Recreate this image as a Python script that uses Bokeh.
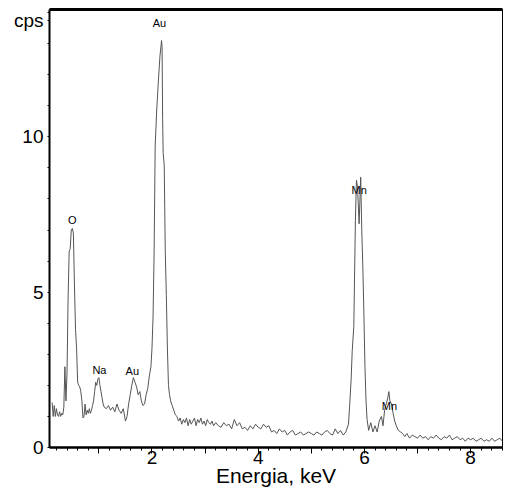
from bokeh.plotting import figure
from bokeh.models import Range1d, LinearAxis, SingleIntervalTicker, FixedTicker, ColumnDataSource
from bokeh.embed import file_html
from bokeh.resources import INLINE
from bokeh.core.properties import value

# EDS spectrum (energy in keV, counts per second)
energy = [0.12, 0.14, 0.16, 0.18, 0.20, 0.22, 0.24, 0.26, 0.28, 0.30, 0.32, 0.34, 0.36, 0.38, 0.40,
          0.42, 0.44, 0.46, 0.48, 0.50, 0.52, 0.54, 0.56, 0.58, 0.60, 0.62, 0.64, 0.66, 0.68, 0.70,
          0.72, 0.74, 0.76, 0.78, 0.80, 0.82, 0.84, 0.86, 0.88, 0.90, 0.92, 0.94, 0.96, 0.98, 1.00,
          1.02, 1.04, 1.06, 1.08, 1.10, 1.14, 1.18, 1.22, 1.26, 1.30, 1.34, 1.38, 1.42, 1.46, 1.50,
          1.53, 1.56, 1.59, 1.62, 1.65, 1.68, 1.71, 1.74, 1.77, 1.80, 1.83, 1.86, 1.89, 1.92, 1.95,
          1.98, 2.00, 2.02, 2.04, 2.06, 2.09, 2.12, 2.15, 2.18, 2.19, 2.20, 2.21, 2.23, 2.25, 2.27,
          2.29, 2.31, 2.33, 2.35, 2.38, 2.41, 2.44, 2.47, 2.50, 2.53, 2.56, 2.59, 2.62, 2.65, 2.68,
          2.71, 2.74, 2.77, 2.80, 2.83, 2.86, 2.89, 2.92, 2.95, 2.98, 3.01, 3.04, 3.07, 3.10, 3.13,
          3.16, 3.20, 3.25, 3.30, 3.35, 3.40, 3.45, 3.50, 3.55, 3.60, 3.65, 3.70, 3.75, 3.80, 3.85,
          3.90, 3.95, 4.00, 4.05, 4.10, 4.15, 4.20, 4.25, 4.30, 4.35, 4.40, 4.45, 4.50, 4.55, 4.60,
          4.65, 4.70, 4.75, 4.80, 4.85, 4.90, 4.95, 5.00, 5.05, 5.10, 5.15, 5.20, 5.25, 5.30, 5.35,
          5.40, 5.45, 5.50, 5.55, 5.60, 5.65, 5.70, 5.72, 5.75, 5.77, 5.80, 5.83, 5.85, 5.87, 5.90,
          5.93, 5.95, 5.97, 5.99, 6.01, 6.03, 6.05, 6.08, 6.12, 6.16, 6.20, 6.24, 6.28, 6.32, 6.35,
          6.38, 6.41, 6.44, 6.46, 6.48, 6.51, 6.54, 6.57, 6.60, 6.64, 6.68, 6.72, 6.76, 6.80, 6.85,
          6.90, 6.95, 7.00, 7.05, 7.10, 7.15, 7.20, 7.25, 7.30, 7.35, 7.40, 7.45, 7.50, 7.55, 7.60,
          7.65, 7.70, 7.75, 7.80, 7.85, 7.90, 7.95, 8.00, 8.05, 8.10, 8.15, 8.20, 8.25, 8.30, 8.35,
          8.40, 8.45, 8.50, 8.55, 8.60]
cps = [1.45, 1.00, 1.35, 1.00, 1.25, 1.05, 1.00, 1.15, 1.00, 1.10, 1.05, 1.30, 2.60, 1.50, 2.40,
       4.80, 6.30, 6.40, 7.00, 7.05, 6.90, 5.20, 3.80, 3.20, 2.10, 2.00, 1.95, 1.80, 1.50, 0.95,
       1.00, 1.40, 1.05, 1.20, 1.10, 1.25, 1.10, 1.20, 1.35, 1.50, 1.80, 2.10, 2.00, 2.20, 2.25,
       2.00, 1.80, 1.60, 1.40, 1.30, 1.25, 1.35, 1.20, 1.30, 1.15, 1.40, 1.20, 1.10, 1.25, 0.85,
       1.00, 1.40, 1.70, 2.00, 2.25, 2.10, 1.95, 1.70, 1.80, 1.50, 1.35, 1.40, 1.70, 1.90, 2.30,
       2.60, 3.20, 4.20, 6.30, 9.70, 10.90, 11.80, 12.60, 13.10, 12.90, 10.60, 9.50, 9.10, 6.30, 4.90,
       3.20, 2.00, 1.70, 1.50, 1.35, 1.20, 1.05, 1.00, 0.85, 0.95, 0.75, 0.90, 0.80, 0.95, 0.70,
       0.90, 0.75, 0.85, 0.95, 0.70, 0.90, 0.80, 0.95, 0.75, 0.85, 0.70, 0.90, 0.80, 0.75, 0.85,
       0.70, 0.80, 0.70, 0.65, 0.80, 0.70, 0.75, 0.60, 0.90, 0.70, 0.80, 0.60, 0.65, 0.55, 0.70,
       0.60, 0.75, 0.65, 0.60, 0.75, 0.65, 0.70, 0.50, 0.55, 0.45, 0.60, 0.50, 0.55, 0.40, 0.50,
       0.55, 0.40, 0.45, 0.50, 0.40, 0.45, 0.50, 0.45, 0.40, 0.50, 0.45, 0.40, 0.50, 0.55, 0.45,
       0.40, 0.60, 0.45, 0.55, 0.40, 0.50, 0.75, 1.30, 2.20, 3.10, 3.90, 7.30, 8.60, 8.40, 7.20,
       8.70, 7.00, 5.80, 4.30, 2.60, 1.50, 0.90, 0.55, 0.80, 0.50, 0.70, 0.50, 0.85, 1.00, 0.70,
       1.20, 1.40, 1.60, 1.80, 1.50, 1.40, 1.10, 0.85, 0.70, 0.55, 0.50, 0.45, 0.35, 0.45, 0.30,
       0.40, 0.35, 0.30, 0.40, 0.30, 0.35, 0.25, 0.35, 0.30, 0.40, 0.30, 0.25, 0.35, 0.30, 0.40,
       0.25, 0.30, 0.35, 0.25, 0.30, 0.20, 0.30, 0.25, 0.30, 0.20, 0.25, 0.30, 0.20, 0.25, 0.20,
       0.30, 0.20, 0.25, 0.30, 0.20]

# Peak annotations
peak_names = ["O", "Na", "Au", "Au", "Mn", "Mn"]
peak_energy = [0.50, 1.01, 1.63, 2.14, 5.90, 6.47]
peak_cps = [7.32, 2.48, 2.45, 13.65, 8.30, 1.32]

x_tick_labels = {1: "", 2: "2", 3: "", 4: "4", 5: "", 6: "6", 7: "", 8: "8"}
y_major_ticks = [0, 5, 10, 13.75]
y_minor_ticks = [1, 2, 3, 4, 6, 7, 8, 9, 11, 12, 13, 14]
y_tick_labels = {0: "0", 5: "5", 10: "10", 13.75: "cps"}

FONT = "Liberation Sans"

p = figure(width=505, height=495, output_backend="svg", toolbar_location=None,
           x_range=Range1d(0.07, 8.6), y_range=Range1d(0, 14.1),
           min_border_left=49, min_border_top=9, min_border_right=3, min_border_bottom=48)
p.background_fill_color = "white"
p.border_fill_color = "white"
p.grid.visible = False
p.outline_line_color = "black"
p.outline_line_width = 1

p.line(energy, cps, line_color="#555555", line_width=1)

src = ColumnDataSource(dict(x=peak_energy, y=peak_cps, t=peak_names))
p.text(x="x", y="y", text="t", source=src, text_font=value(FONT), text_font_size="11px",
       text_align="center", text_baseline="middle", text_color="black")

# x axis
xa = p.xaxis[0]
xa.ticker = SingleIntervalTicker(interval=1, num_minor_ticks=5)
xa.major_label_overrides = x_tick_labels
xa.axis_label = "Energia, keV"
xa.axis_label_text_font = FONT
xa.axis_label_text_font_style = "normal"
xa.axis_label_text_font_size = "21px"
xa.axis_label_text_color = "black"
xa.axis_label_standoff = -3
xa.major_label_text_font = FONT
xa.major_label_text_font_size = "19px"
xa.major_label_text_color = "black"
xa.major_label_standoff = -3
xa.axis_line_width = 2.5
xa.major_tick_in = 0
xa.major_tick_out = 6
xa.minor_tick_in = 0
xa.minor_tick_out = 3

# y axis (the unit "cps" sits at the top as a tick label)
ya = p.yaxis[0]
ya.ticker = FixedTicker(ticks=y_major_ticks, minor_ticks=y_minor_ticks)
ya.major_label_overrides = y_tick_labels
ya.major_label_text_font = FONT
ya.major_label_text_font_size = "19px"
ya.major_label_text_color = "black"
ya.major_label_standoff = 4
ya.axis_line_width = 2
ya.major_tick_in = 0
ya.major_tick_out = 2
ya.minor_tick_in = 0
ya.minor_tick_out = 2

# thick top frame line
top = LinearAxis(ticker=FixedTicker(ticks=[]), axis_line_width=3,
                 major_tick_in=0, major_tick_out=0, minor_tick_in=0, minor_tick_out=0,
                 major_label_text_font_size="0px", major_label_standoff=0)
p.add_layout(top, "above")

open("out.html", "w").write(file_html(p, INLINE))
